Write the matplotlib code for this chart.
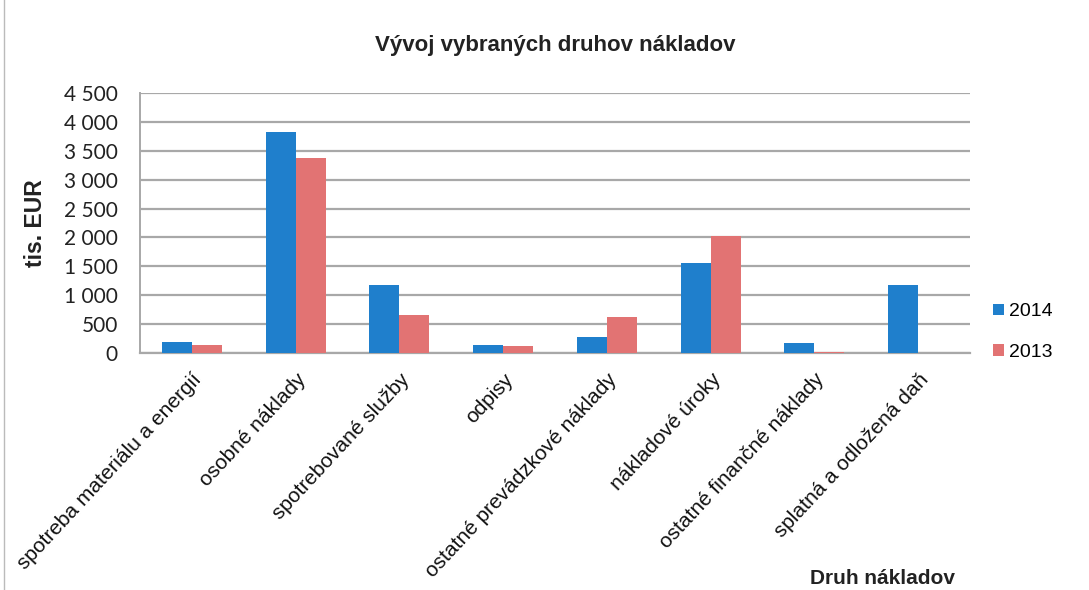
import matplotlib.pyplot as plt
import matplotlib.ticker as mticker
import numpy as np

categories = [
    "spotreba materiálu a energií",
    "osobné náklady",
    "spotrebované služby",
    "odpisy",
    "ostatné prevádzkové náklady",
    "nákladové úroky",
    "ostatné finančné náklady",
    "splatná a odložená daň",
]
values_2014 = [190, 3820, 1170, 130, 280, 1560, 165, 1170]
values_2013 = [140, 3370, 650, 115, 615, 2020, 15, 0]
series_labels = ["2014", "2013"]

blue = "#1f7fcc"
red = "#e27373"
grid_col = "#a8a8a8"

fig = plt.figure(figsize=(10.89, 5.90), dpi=100)
ax = fig.add_axes([140 / 1089, 1 - 353 / 590, 830 / 1089, 260 / 590])

x = np.arange(len(categories))
w = 0.29
ax.bar(x - w / 2, values_2014, w, color=blue, label=series_labels[0], zorder=3)
ax.bar(x + w / 2, values_2013, w, color=red, label=series_labels[1], zorder=3)

ax.set_xlim(-0.5, len(categories) - 0.5)
ax.set_ylim(0, 4500)
ax.yaxis.set_major_locator(mticker.MultipleLocator(500))
ax.yaxis.set_major_formatter(mticker.FuncFormatter(lambda v, p: f"{int(v):,}".replace(",", " ")))
ax.grid(axis="y", color=grid_col, linewidth=1.6, zorder=0)

for s in ["top", "right"]:
    ax.spines[s].set_visible(False)
ax.spines["left"].set_color(grid_col)
ax.spines["bottom"].set_color(grid_col)
ax.spines["left"].set_linewidth(1.4)
ax.spines["bottom"].set_linewidth(1.6)

ax.tick_params(axis="y", length=0, pad=16, labelsize=15, labelcolor="#222222")
for t in ax.get_yticklabels():
    t.set_fontfamily("Lato")
ax.set_xticks(x)
ax.set_xticklabels(categories, rotation=47, ha="right", rotation_mode="anchor",
                   fontsize=15, family="Liberation Sans", color="#111111")
ax.tick_params(axis="x", length=0, pad=12)

ax.set_ylabel("tis. EUR", fontsize=16.5, fontweight="bold", family="Liberation Sans",
              labelpad=12, color="#222222")
fig.text(555 / 1089, 1 - 45 / 590, "Vývoj vybraných druhov nákladov", ha="center", va="center",
         fontsize=16, fontweight="bold", family="Liberation Sans", color="#222222")
fig.text(883 / 1089, 1 - 578 / 590, "Druh nákladov", ha="center", va="center",
         fontsize=15, fontweight="bold", family="Liberation Sans", color="#222222")

fig.legend(loc="center left", bbox_to_anchor=(993 / 1089, 1 - 332 / 590), frameon=False,
           prop={"family": "Liberation Sans", "size": 14}, handlelength=0.55, handleheight=0.55,
           handletextpad=0.25, labelspacing=1.2, borderpad=0, borderaxespad=0)

fig.add_artist(plt.Line2D([4 / 1089, 4 / 1089], [0, 1], color="#bbbbbb", linewidth=1))

fig.savefig("out.png", dpi=100)
